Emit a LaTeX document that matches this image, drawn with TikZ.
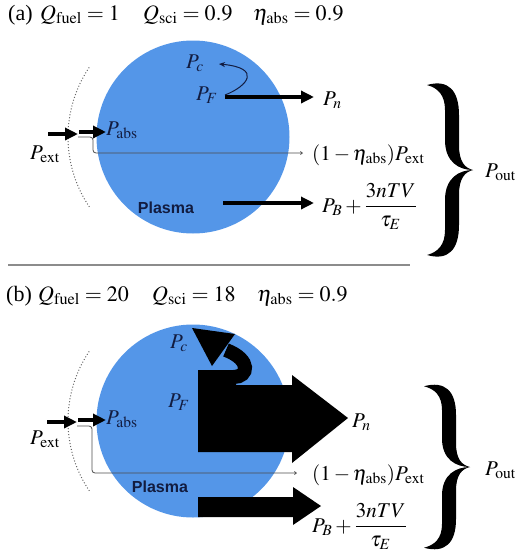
\documentclass[tikz,border=0pt]{standalone}
\usepackage{mathptmx}
\usepackage{fontspec}
\setmainfont{Liberation Serif}
\newfontfamily\plasmafont{Liberation Sans}
\usetikzlibrary{arrows.meta}
\definecolor{plasmablue}{RGB}{84,150,232}
\definecolor{navy}{RGB}{18,28,64}
\definecolor{sepgray}{RGB}{140,140,140}
\newcommand{\bracehalves}{%
  \fill (-46,-85) .. controls (-25,-91) and (-14,-80) .. (-14,-55) -- (-14,-25)
        .. controls (-14,-8) and (-8,-2) .. (0,0)
        .. controls (-14,0) and (-28,-8) .. (-28,-30) -- (-28,-60)
        .. controls (-28,-75) and (-35,-82) .. (-46,-85) -- cycle;
  \fill (-46,85) .. controls (-25,91) and (-14,80) .. (-14,55) -- (-14,25)
        .. controls (-14,8) and (-8,2) .. (0,0)
        .. controls (-14,0) and (-28,8) .. (-28,30) -- (-28,60)
        .. controls (-28,75) and (-35,82) .. (-46,85) -- cycle;}
\begin{document}
\begin{tikzpicture}[x=1pt,y=-1pt,
  every node/.style={inner sep=0pt,font=\fontsize{21}{25}\selectfont},
  titlelabel/.style={anchor=base west,font=\fontsize{22}{26}\selectfont},
  plasmadisk/.style={fill=plasmablue},
  wallarc/.style={draw=black!60,dotted,line width=1pt},
  flowarrow/.style={line width=4pt,-{Triangle[length=13pt,width=12pt]}},
  lossline/.style={draw=black!70,line width=0.8pt,rounded corners=3pt,-{Straight Barb[length=2pt,width=3pt]}},
  alphaarrow/.style={draw=navy,line width=1pt,-{Stealth[length=6pt,width=5pt]}},
  inlabel/.style={text=navy,anchor=base west},
  outlabel/.style={anchor=base west},
  plasmalabel/.style={text=navy,font=\plasmafont\bfseries\fontsize{16}{19}\selectfont},
  bigflow/.style={fill=black},
  separator/.style={draw=sepgray,line width=2pt}]
\useasboundingbox (0,0) rectangle (520,555);

% ---------------- panel (a) ----------------
\node[titlelabel] (a-tag) at (8,20) {(a)};
\node[titlelabel] (a-qf) at (40,20) {$Q_{\mathrm{fuel}}=1$};
\node[titlelabel] (a-qs) at (143,20) {$Q_{\mathrm{sci}}=0.9$};
\node[titlelabel] (a-eta) at (253,20) {$\eta_{\mathrm{abs}}=0.9$};

\coordinate (a-c) at (193,137);
\fill[plasmadisk] (a-c) circle[radius=96.5];
\draw[wallarc] (a-c) ++(146:125) arc[start angle=146,end angle=214,radius=125];

\node[inlabel] (a-pc) at (186,68) {$P_c$};
\node[inlabel] (a-pf) at (196,100) {$P_F$};
\node[inlabel] (a-pabs) at (106,135) {$P_{\mathrm{abs}}$};
\node[outlabel] (a-pext) at (30,159) {$P_{\mathrm{ext}}$};
\node[outlabel] (a-pn) at (323,105) {$P_n$};
\node[outlabel] (a-loss) at (312,160) {$(1-\eta_{\mathrm{abs}})P_{\mathrm{ext}}$};
\node[outlabel] (a-pb) at (322,212) {$P_B+\displaystyle\frac{3nTV}{\tau_E}$};
\node[outlabel] (a-pout) at (485,177) {$P_{\mathrm{out}}$};
\node[plasmalabel] (a-plasma) at (166,208) {Plasma};

\coordinate (a-e1s) at (48,134);  \coordinate (a-e1e) at (78,134);
\coordinate (a-e2s) at (79,132);  \coordinate (a-e2e) at (106,132);
\draw[flowarrow] (a-e1s) -- (a-e1e);
\draw[flowarrow] (a-e2s) -- (a-e2e);
\coordinate (a-ls) at (78,137); \coordinate (a-le) at (303,153);
\draw[lossline] (a-ls) -- (93,137) -- (93,153) -- (a-le);
\coordinate (a-ns) at (225,97); \coordinate (a-ne) at (314,97);
\draw[flowarrow] (a-ns) -- (a-ne);
\coordinate (a-bs) at (223,203); \coordinate (a-be) at (314,203);
\draw[flowarrow] (a-bs) -- (a-be);
\coordinate (a-as) at (225,95); \coordinate (a-ae) at (219,64);
\draw[alphaarrow] (a-as) .. controls (248,86) and (262,68) .. (a-ae);

\begin{scope}[shift={(473,170)}]
  \bracehalves
\end{scope}

\draw[separator] (8,265) -- (410,265);

% ---------------- panel (b) ----------------
\node[titlelabel] (b-tag) at (6,301) {(b)};
\node[titlelabel] (b-qf) at (38,301) {$Q_{\mathrm{fuel}}=20$};
\node[titlelabel] (b-qs) at (152,301) {$Q_{\mathrm{sci}}=18$};
\node[titlelabel] (b-eta) at (257,301) {$\eta_{\mathrm{abs}}=0.9$};

\coordinate (b-c) at (193,421);
\fill[plasmadisk] (b-c) circle[radius=96.5];
\draw[wallarc] (b-c) ++(146:125) arc[start angle=146,end angle=214,radius=125];

% big fusion arrow to P_n
\fill[bigflow] (198,370) -- (236,370) -- (236,385) -- (292,385) -- (292,375)
  -- (348,418) -- (292,463) -- (292,452) -- (198,452) -- cycle;
% curved alpha arrow
\draw[line width=14pt] (222,377) -- (234,377) .. controls (248,377) and (252,360) .. (226,350);
\fill[bigflow] (192,328) -- (235,334) -- (212,366) -- cycle;
% transport arrow
\fill[bigflow] (198,497) -- (293,497) -- (293,487) -- (321,506) -- (293,525)
  -- (293,517) -- (198,517) -- cycle;

\node[inlabel] (b-pc) at (170,348) {$P_c$};
\node[inlabel] (b-pf) at (168,407) {$P_F$};
\node[inlabel] (b-pabs) at (106,424) {$P_{\mathrm{abs}}$};
\node[outlabel] (b-pext) at (30,444) {$P_{\mathrm{ext}}$};
\node[outlabel] (b-pn) at (352,427) {$P_n$};
\node[outlabel] (b-loss) at (312,480) {$(1-\eta_{\mathrm{abs}})P_{\mathrm{ext}}$};
\node[outlabel] (b-pb) at (312,532) {$P_B+\displaystyle\frac{3nTV}{\tau_E}$};
\node[outlabel] (b-pout) at (485,475) {$P_{\mathrm{out}}$};
\node[plasmalabel] (b-plasma) at (160,487) {Plasma};

\coordinate (b-e1s) at (47,422);  \coordinate (b-e1e) at (77,422);
\coordinate (b-e2s) at (78,420);  \coordinate (b-e2e) at (106,420);
\draw[flowarrow] (b-e1s) -- (b-e1e);
\draw[flowarrow] (b-e2s) -- (b-e2e);
\coordinate (b-ls) at (77,426); \coordinate (b-le) at (297,473);
\draw[lossline] (b-ls) -- (92,426) -- (92,473) -- (b-le);

\begin{scope}[shift={(470,467)},yscale=0.95]
  \bracehalves
\end{scope}
\end{tikzpicture}
\end{document}
